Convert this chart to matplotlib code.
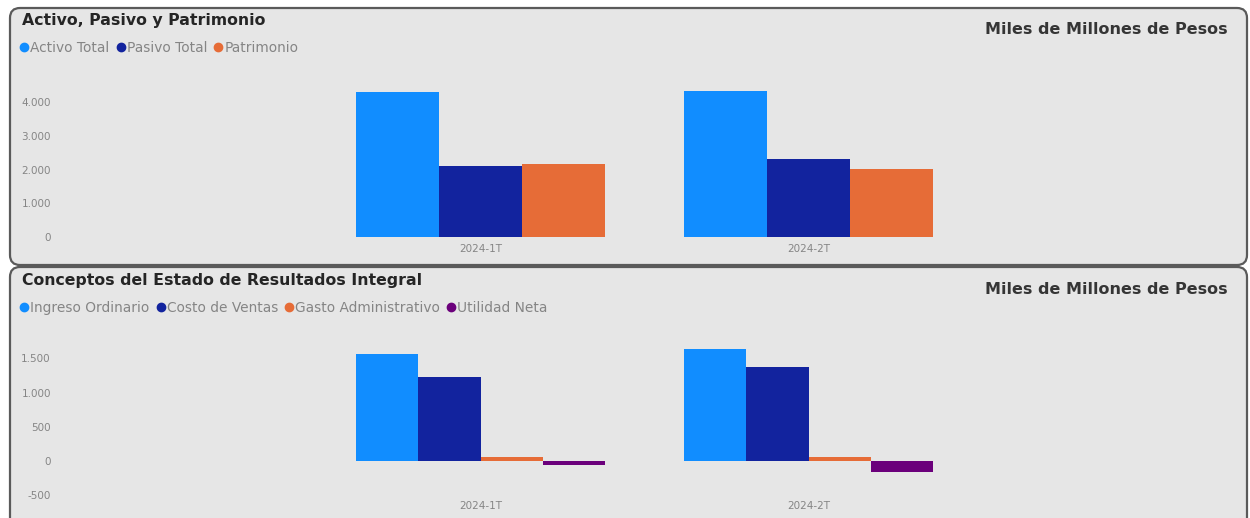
import matplotlib
matplotlib.use("Agg")
import matplotlib.pyplot as plt
from matplotlib.patches import FancyBboxPatch
from matplotlib.lines import Line2D
from matplotlib.ticker import FuncFormatter
import numpy as np

# ---- data ----
periods = ["2024-1T", "2024-2T"]

bal_series = ["Activo Total", "Pasivo Total", "Patrimonio"]
activo_total = [4300, 4325]
pasivo_total = [2095, 2300]
patrimonio = [2155, 2015]

res_series = ["Ingreso Ordinario", "Costo de Ventas", "Gasto Administrativo", "Utilidad Neta"]
ingreso_ordinario = [1565, 1635]
costo_ventas = [1235, 1380]
gasto_admin = [58, 58]
utilidad_neta = [-55, -165]

top_ticks = [0, 1000, 2000, 3000, 4000]
bot_ticks = [-500, 0, 500, 1000, 1500]

title_top = "Activo, Pasivo y Patrimonio"
title_bot = "Conceptos del Estado de Resultados Integral"
unit_label = "Miles de Millones de Pesos"

# ---- style ----
C_BLUE = "#118DFF"
C_NAVY = "#12239E"
C_ORANGE = "#E66C37"
C_PURPLE = "#6B007B"
PANEL = "#e6e6e6"
TXT = "#858585"

W, H = 1250, 518
fig = plt.figure(figsize=(W / 100, H / 100), dpi=100)
fig.patch.set_facecolor("white")


def px_rect(x0, y0, x1, y1):
    # pixel coords (top-left origin) -> fig fraction [l, b, w, h]
    return [x0 / W, (H - y1) / H, (x1 - x0) / W, (y1 - y0) / H]


# panels
for (y0, y1) in [(8, 265), (267, 540)]:
    p = FancyBboxPatch((10 / 100, (H - y1) / 100), (1247 - 10) / 100, (y1 - y0) / 100,
                       boxstyle="round,pad=0,rounding_size=0.1",
                       transform=fig.dpi_scale_trans, facecolor=PANEL,
                       edgecolor="#5a5a5a", linewidth=1.6, zorder=0)
    fig.add_artist(p)

fmt = FuncFormatter(lambda v, _: f"{int(v):,}".replace(",", "."))

x = np.arange(len(periods))
xl = (-(480.5 - 55) / 328, 1 + (1240 - 808.5) / 328)


def setup_axes(rect, ylim, ticks):
    ax = fig.add_axes(rect)
    ax.set_facecolor("none")
    for s in ax.spines.values():
        s.set_visible(False)
    ax.set_xlim(*xl)
    ax.set_ylim(*ylim)
    ax.set_yticks(ticks)
    ax.yaxis.set_major_formatter(fmt)
    ax.set_xticks(x)
    ax.set_xticklabels(periods)
    ax.tick_params(axis="both", length=0, labelsize=7.5, labelcolor=TXT)
    ax.tick_params(axis="y", pad=3)
    return ax


# top chart
ax1 = setup_axes(px_rect(55, 80, 1240, 237), (0, (237 - 80) / 33.75 * 1000), top_ticks)
ax1.tick_params(axis="x", pad=5)
bw = 83 / 328
top_vals = [activo_total, pasivo_total, patrimonio]
top_cols = [C_BLUE, C_NAVY, C_ORANGE]
for i, (vals, col) in enumerate(zip(top_vals, top_cols)):
    ax1.bar(x + (i - 1) * bw, vals, width=bw, color=col, zorder=2)

# bottom chart
k = 0.0684
ax2 = setup_axes(px_rect(55, 335, 1240, 497), (-(497 - 461) / k, (461 - 335) / k), bot_ticks)
ax2.tick_params(axis="x", pad=3)
bw2 = 249 / 4 / 328
bot_vals = [ingreso_ordinario, costo_ventas, gasto_admin, utilidad_neta]
bot_cols = [C_BLUE, C_NAVY, C_ORANGE, C_PURPLE]
for i, (vals, col) in enumerate(zip(bot_vals, bot_cols)):
    ax2.bar(x + (i - 1.5) * bw2, vals, width=bw2, color=col, zorder=2)

# titles
fig.text(22 / W, 1 - 20 / H, title_top, fontsize=11.3, fontweight="bold", color="#252525",
         va="center", ha="left")
fig.text(22 / W, 1 - 281 / H, title_bot, fontsize=11.3, fontweight="bold", color="#252525",
         va="center", ha="left")
fig.text(1228 / W, 1 - 30 / H, unit_label, fontsize=11.5, fontweight="bold", color="#353535",
         va="center", ha="right")
fig.text(1228 / W, 1 - 289 / H, unit_label, fontsize=11.5, fontweight="bold", color="#353535",
         va="center", ha="right")


def add_legend(names, cols, y_px):
    handles = [Line2D([], [], marker="o", linestyle="none", markersize=6,
                      markerfacecolor=c, markeredgecolor=c) for c in cols]
    leg = fig.legend(handles, names, loc="center left",
                     bbox_to_anchor=(20 / W, 1 - (y_px + 1) / H), ncol=len(names),
                     frameon=False, fontsize=9.9, handlelength=0.6, handletextpad=0.15,
                     columnspacing=0.5, borderpad=0, borderaxespad=0)
    for t in leg.get_texts():
        t.set_color(TXT)


add_legend(bal_series, top_cols, 47)
add_legend(res_series, bot_cols, 307)

fig.savefig("out.png", dpi=100)
